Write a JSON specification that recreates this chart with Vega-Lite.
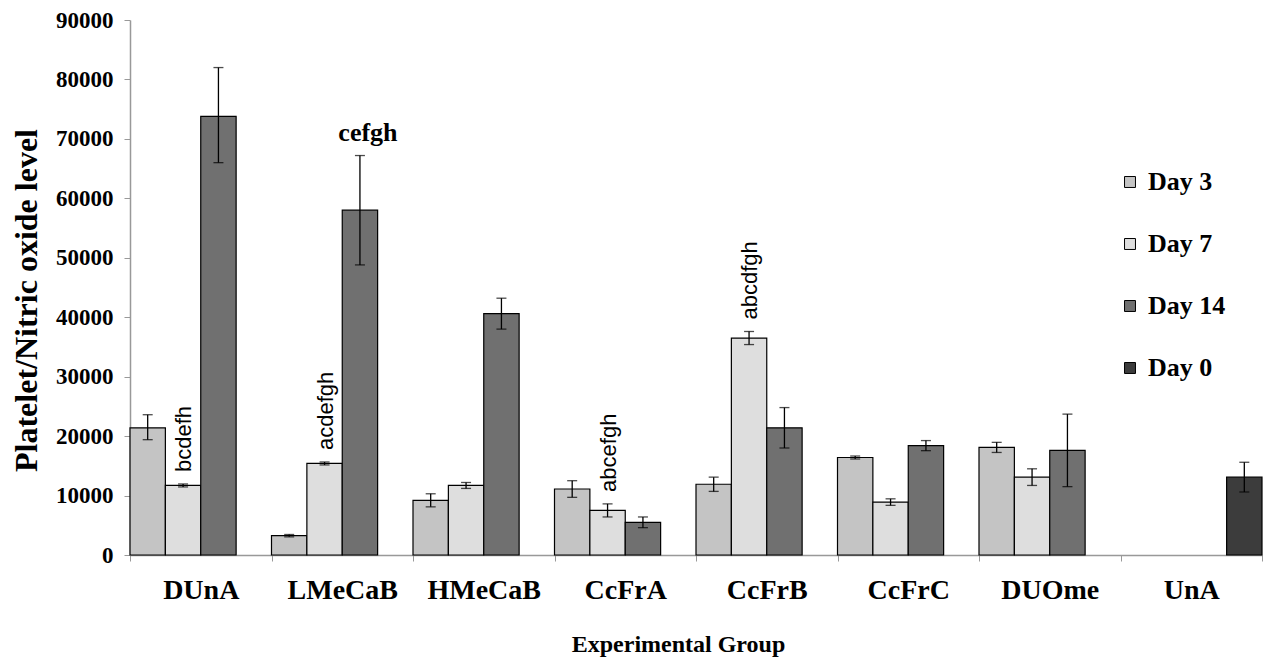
{
  "$schema": "https://vega.github.io/schema/vega-lite/v6.json",
  "autosize": "none",
  "width": 1132,
  "height": 535,
  "padding": {"left": 130, "top": 20, "right": 1, "bottom": 102},
  "background": "white",
  "config": {
    "view": {"stroke": null},
    "font": "Liberation Serif"
  },
  "datasets": {
    "bars": [
      {"group": "DUnA", "day": "Day 3", "value": 21400, "lo": 19400, "hi": 23600},
      {"group": "DUnA", "day": "Day 7", "value": 11700, "lo": 11450, "hi": 11950},
      {"group": "DUnA", "day": "Day 14", "value": 73800, "lo": 66000, "hi": 82000},
      {"group": "LMeCaB", "day": "Day 3", "value": 3250, "lo": 3050, "hi": 3450},
      {"group": "LMeCaB", "day": "Day 7", "value": 15400, "lo": 15150, "hi": 15650},
      {"group": "LMeCaB", "day": "Day 14", "value": 58000, "lo": 48800, "hi": 67200},
      {"group": "HMeCaB", "day": "Day 3", "value": 9200, "lo": 8100, "hi": 10300},
      {"group": "HMeCaB", "day": "Day 7", "value": 11700, "lo": 11200, "hi": 12200},
      {"group": "HMeCaB", "day": "Day 14", "value": 40600, "lo": 38000, "hi": 43200},
      {"group": "CcFrA", "day": "Day 3", "value": 11100, "lo": 9700, "hi": 12500},
      {"group": "CcFrA", "day": "Day 7", "value": 7500, "lo": 6400, "hi": 8600},
      {"group": "CcFrA", "day": "Day 14", "value": 5500, "lo": 4600, "hi": 6400},
      {"group": "CcFrB", "day": "Day 3", "value": 11900, "lo": 10700, "hi": 13100},
      {"group": "CcFrB", "day": "Day 7", "value": 36500, "lo": 35400, "hi": 37600},
      {"group": "CcFrB", "day": "Day 14", "value": 21400, "lo": 18000, "hi": 24800},
      {"group": "CcFrC", "day": "Day 3", "value": 16400, "lo": 16150, "hi": 16650},
      {"group": "CcFrC", "day": "Day 7", "value": 8900, "lo": 8350, "hi": 9450},
      {"group": "CcFrC", "day": "Day 14", "value": 18400, "lo": 17550, "hi": 19250},
      {"group": "DUOme", "day": "Day 3", "value": 18100, "lo": 17250, "hi": 18950},
      {"group": "DUOme", "day": "Day 7", "value": 13100, "lo": 11700, "hi": 14500},
      {"group": "DUOme", "day": "Day 14", "value": 17600, "lo": 11500, "hi": 23700},
      {"group": "UnA", "day": "Day 0", "value": 13100, "lo": 10600, "hi": 15600}
    ],
    "notes": [
      {"group": "DUnA", "day": "Day 7", "y": 11950, "label": "bcdefh"},
      {"group": "LMeCaB", "day": "Day 7", "y": 15650, "label": "acdefgh"},
      {"group": "CcFrA", "day": "Day 7", "y": 8600, "label": "abcefgh"},
      {"group": "CcFrB", "day": "Day 7", "y": 37600, "label": "abcdfgh"}
    ],
    "bold": [
      {"group": "LMeCaB", "day": "Day 14", "y": 69600, "label": "cefgh"}
    ]
  },
  "encoding": {
    "x": {
      "field": "group",
      "type": "nominal",
      "sort": ["DUnA", "LMeCaB", "HMeCaB", "CcFrA", "CcFrB", "CcFrC", "DUOme", "UnA"],
      "scale": {"domain": ["DUnA", "LMeCaB", "HMeCaB", "CcFrA", "CcFrB", "CcFrC", "DUOme", "UnA"], "paddingInner": 0, "paddingOuter": 0},
      "axis": {
        "title": "Experimental Group",
        "titleFont": "Liberation Serif",
        "titleFontWeight": "bold",
        "titleFontSize": 24,
        "titleColor": "black",
        "titlePadding": 28,
        "titleX": 548,
        "labelFont": "Liberation Serif",
        "labelFontWeight": "bold",
        "labelFontSize": 28,
        "labelColor": "black",
        "labelAngle": 0,
        "labelPadding": 15,
        "tickBand": "extent",
        "tickSize": 6,
        "tickColor": "#999999",
        "domainColor": "#999999",
        "domainWidth": 1.5
      }
    },
    "xOffset": {
      "field": "day",
      "type": "nominal",
      "scale": {"domain": ["Day 3", "Day 7", "Day 14", "Day 0"], "paddingInner": 0, "paddingOuter": 0}
    }
  },
  "layer": [
    {
      "data": {"name": "bars"},
      "mark": {"type": "bar", "stroke": "black", "strokeWidth": 1.2},
      "encoding": {
        "y": {
          "field": "value",
          "type": "quantitative",
          "scale": {"domain": [0, 90000], "nice": false},
          "axis": {
            "title": "Platelet/Nitric oxide level",
            "titleFont": "Liberation Serif",
            "titleFontWeight": "bold",
            "titleFontSize": 32,
            "titleColor": "black",
            "titlePadding": 12,
            "titleY": 280,
            "labelFont": "Liberation Serif",
            "labelFontWeight": "bold",
            "labelFontSize": 23,
            "labelColor": "black",
            "labelPadding": 11,
            "values": [0, 10000, 20000, 30000, 40000, 50000, 60000, 70000, 80000, 90000],
            "format": "d",
            "grid": false,
            "tickSize": 6,
            "tickColor": "#999999",
            "domainColor": "#999999",
            "domainWidth": 1.5
          }
        },
        "fill": {
          "field": "day",
          "type": "nominal",
          "scale": {"domain": ["Day 3", "Day 7", "Day 14", "Day 0"], "range": ["#c4c4c4", "#dedede", "#707070", "#3c3c3c"]},
          "legend": {
            "title": null,
            "orient": "none",
            "legendX": 987,
            "legendY": 149,
            "symbolType": "square",
            "symbolSize": 120,
            "symbolStrokeColor": "black",
            "symbolStrokeWidth": 1,
            "labelFont": "Liberation Serif",
            "labelFontWeight": "bold",
            "labelFontSize": 26,
            "labelColor": "black",
            "labelOffset": 5,
            "rowPadding": 36
          }
        }
      }
    },
    {
      "data": {"name": "bars"},
      "mark": {"type": "rule", "color": "black", "strokeWidth": 1.3},
      "encoding": {
        "y": {"field": "lo", "type": "quantitative"},
        "y2": {"field": "hi"}
      }
    },
    {
      "data": {"name": "bars"},
      "mark": {"type": "tick", "color": "black", "thickness": 1.3, "size": 10},
      "encoding": {
        "y": {"field": "hi", "type": "quantitative"}
      }
    },
    {
      "data": {"name": "bars"},
      "mark": {"type": "tick", "color": "black", "thickness": 1.3, "size": 10},
      "encoding": {
        "y": {"field": "lo", "type": "quantitative"}
      }
    },
    {
      "data": {"name": "notes"},
      "mark": {"type": "text", "angle": 270, "align": "left", "baseline": "middle", "dx": 12, "dy": 1, "font": "Liberation Sans", "fontSize": 22, "color": "black"},
      "encoding": {
        "y": {"field": "y", "type": "quantitative"},
        "text": {"field": "label"}
      }
    },
    {
      "data": {"name": "bold"},
      "mark": {"type": "text", "align": "center", "baseline": "alphabetic", "dx": 8, "font": "Liberation Serif", "fontWeight": "bold", "fontSize": 26, "color": "black"},
      "encoding": {
        "y": {"field": "y", "type": "quantitative"},
        "text": {"field": "label"}
      }
    }
  ]
}
